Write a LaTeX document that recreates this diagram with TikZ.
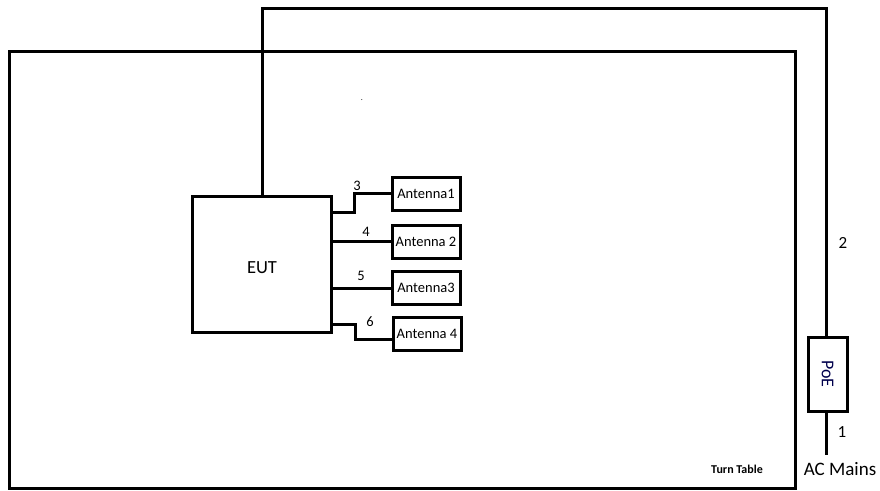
\documentclass[tikz,border=0pt]{standalone}
\usepackage{fontspec}
\setmainfont{Carlito}
\begin{document}
\begin{tikzpicture}[x=1pt,y=-1pt,
  wire/.style={line width=3pt},
  box/.style={draw,line width=3pt,minimum width=68pt,minimum height=33pt,inner sep=0pt,font=\fontsize{14.5}{14.5}\selectfont},
  num/.style={font=\fontsize{14.5}{14.5}\selectfont,inner sep=0pt}]
\useasboundingbox (0,0) rectangle (880,490);
% turn table
\draw[line width=3pt] (9,488) -- (9,51) -- (795,51) -- (795,488) -- cycle;
\node[font=\bfseries\fontsize{12}{12}\selectfont,inner sep=0pt] (tt) at (737,469) {Turn Table};
\node[inner sep=0pt,font=\fontsize{8}{8}\selectfont] (dot) at (362,100) {.};
% EUT
\node[draw,line width=3pt,minimum width=139pt,minimum height=136pt,inner sep=0pt] (eut) at (261.5,264) {};
\node[inner sep=0pt,font=\fontsize{18.5}{18.5}\selectfont] (eutt) at (262,268) {EUT};
% antennas
\node[box] (a1) at (426,193.5) {Antenna1};
\node[box] (a2) at (426,241.5) {Antenna 2};
\node[box] (a3) at (426,288) {Antenna3};
\node[box] (a4) at (427,333.5) {Antenna 4};
\draw[wire] (eut.east |- 0,212) -- (354,212) -- (354,193.5) -- (a1.west);
\draw[wire] (eut.east |- a2) -- (a2.west);
\draw[wire] (eut.east |- a3) -- (a3.west);
\draw[wire] (eut.east |- 0,324) -- (355,324) -- (355,339) -- (a4.west |- 0,339);
\node[num] (n3) at (357,186) {3};
\node[num] (n4) at (366,232) {4};
\node[num] (n5) at (361,276) {5};
\node[num] (n6) at (370,322) {6};
% PoE
\node[draw,line width=3pt,minimum width=39pt,minimum height=74pt,inner sep=0pt] (poe) at (827.5,374) {};
\node[rotate=-90,inner sep=0pt,font=\fontsize{18}{18}\selectfont,text=black!70!blue] (poet) at (poe.center) {PoE};
\draw[wire] (eut.north -| 262,0) -- (262,8) -- (826,8) -- (poe.north -| 826,0);
\coordinate (acend) at (826,455);
\draw[wire] (poe.south -| 826,0) -- (acend);
\node[num,font=\fontsize{17}{17}\selectfont] (n2) at (843,243) {2};
\node[num,font=\fontsize{17}{17}\selectfont] (n1) at (842,432) {1};
\node[inner sep=0pt,font=\fontsize{19}{19}\selectfont] (ac) at (840,469) {AC Mains};
\end{tikzpicture}
\end{document}
